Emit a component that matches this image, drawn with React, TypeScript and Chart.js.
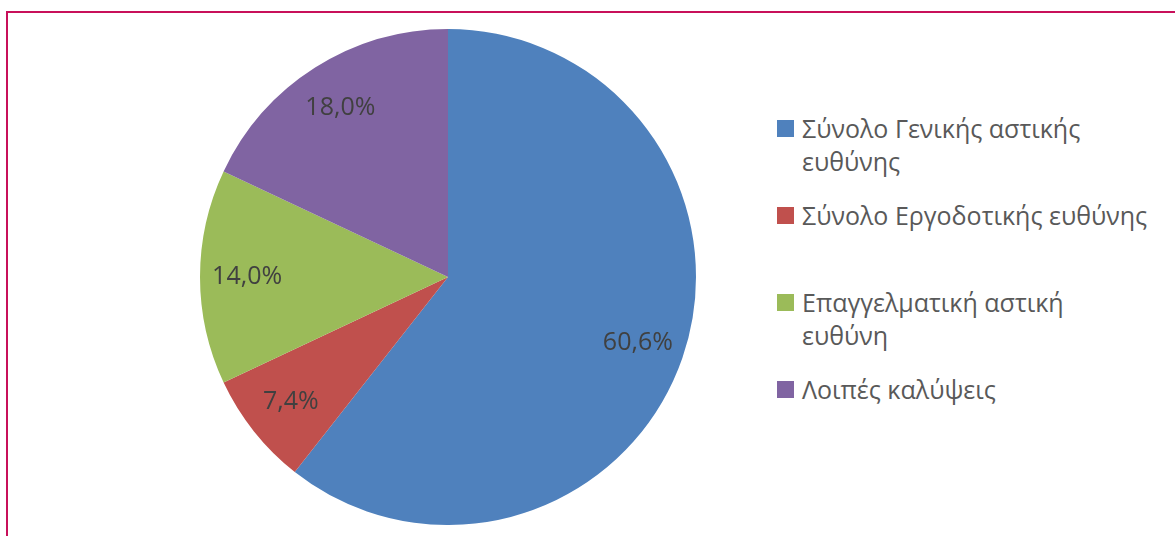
import React, { useEffect, useRef } from "react";
import { Chart, registerables } from "chart.js";

Chart.register(...registerables);

const categories = [
  "Σύνολο Γενικής αστικής ευθύνης",
  "Σύνολο Εργοδοτικής ευθύνης",
  "Επαγγελματική αστική ευθύνη",
  "Λοιπές καλύψεις",
];
const legendLines = [
  ["Σύνολο Γενικής αστικής", "ευθύνης"],
  ["Σύνολο Εργοδοτικής ευθύνης"],
  ["Επαγγελματική αστική", "ευθύνη"],
  ["Λοιπές καλύψεις"],
];
const values = [60.6, 7.4, 14.0, 18.0];
const colors = ["#4F81BD", "#C0504D", "#9BBB59", "#8064A2"];

const FONT = "'Open Sans', 'DejaVu Sans', sans-serif";

const labelPlugin = {
  id: "sliceLabels",
  afterDatasetsDraw(chart: any) {
    const ctx = chart.ctx;
    const meta = chart.getDatasetMeta(0);
    ctx.save();
    ctx.font = `25px ${FONT}`;
    ctx.fillStyle = "#404040";
    ctx.textAlign = "center";
    ctx.textBaseline = "middle";
    meta.data.forEach((arc: any, i: number) => {
      const mid = (arc.startAngle + arc.endAngle) / 2;
      const r = arc.outerRadius * 0.81;
      const x = arc.x + Math.cos(mid) * r;
      const y = arc.y + Math.sin(mid) * r;
      const txt = values[i].toFixed(1).replace(".", ",") + "%";
      ctx.fillText(txt, x, y);
    });
    ctx.restore();
  },
};

export default function App() {
  const ref = useRef<HTMLCanvasElement>(null);
  useEffect(() => {
    if (!ref.current) return;
    const chart = new Chart(ref.current, {
      type: "pie",
      data: {
        labels: categories,
        datasets: [
          {
            data: values,
            backgroundColor: colors,
            borderWidth: 0,
          },
        ],
      },
      options: {
        responsive: false,
        animation: false,
        layout: { padding: 0 },
        plugins: {
          legend: { display: false },
          tooltip: { enabled: false },
        },
      },
      plugins: [labelPlugin],
    });
    return () => chart.destroy();
  }, []);

  return (
    <div
      style={{
        position: "fixed",
        left: 0,
        top: 0,
        width: 1175,
        height: 536,
        overflow: "hidden",
        background: "#fff",
      }}
    >
      <div
        style={{
          position: "absolute",
          left: 6,
          top: 11,
          width: 1300,
          height: 700,
          borderTop: "2px solid #C8105A",
          borderLeft: "2px solid #C8105A",
        }}
      />
      <canvas
        ref={ref}
        width={496}
        height={496}
        style={{ position: "absolute", left: 200, top: 29, width: 496, height: 496 }}
      />
      {legendLines.map((lines, i) => (
        <div
          key={i}
          style={{
            position: "absolute",
            left: 777,
            top: 112 + i * 87,
            display: "flex",
            alignItems: "flex-start",
            fontFamily: FONT,
            fontSize: 25,
            lineHeight: "33px",
            color: "#595959",
            whiteSpace: "nowrap",
          }}
        >
          <div
            style={{
              width: 17,
              height: 17,
              marginTop: 8,
              background: colors[i],
              flex: "0 0 auto",
            }}
          />
          <div style={{ marginLeft: 8 }}>
            {lines.map((l, j) => (
              <div key={j}>{l}</div>
            ))}
          </div>
        </div>
      ))}
    </div>
  );
}
